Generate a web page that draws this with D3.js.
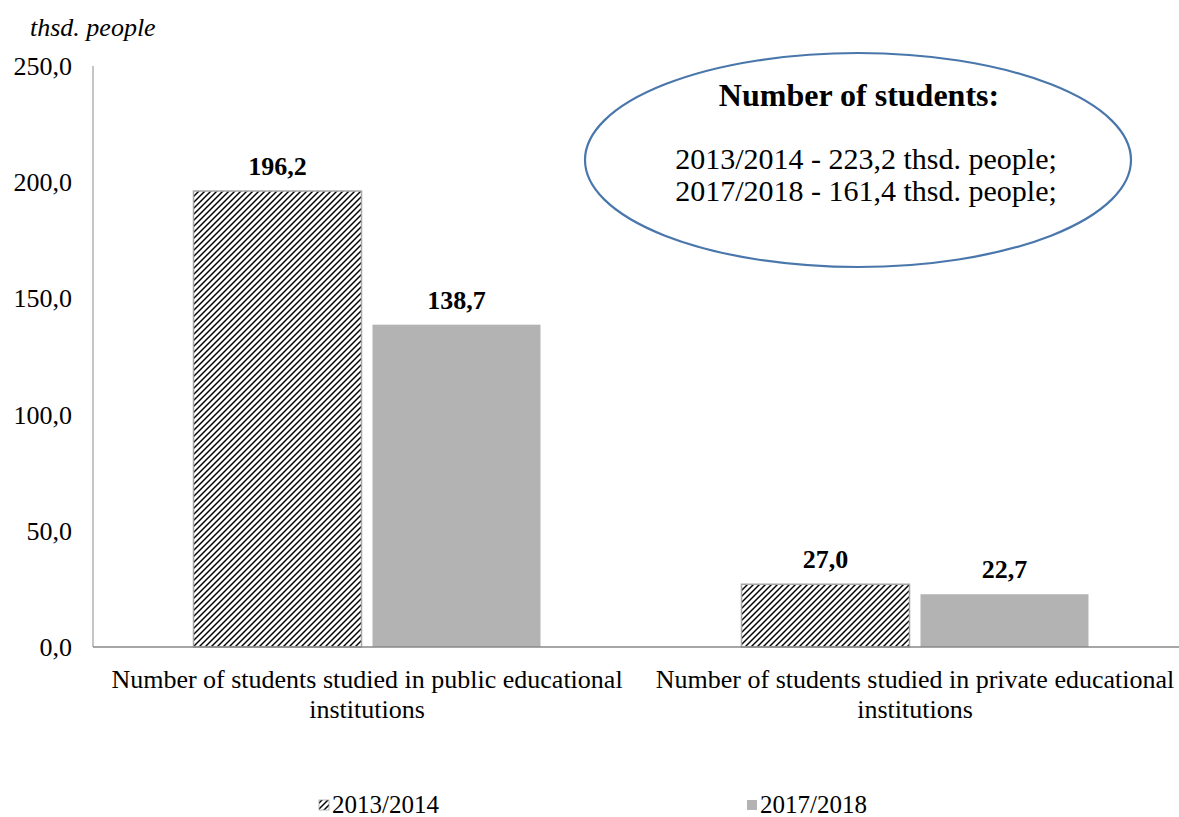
<!DOCTYPE html>
<html>
<head>
<meta charset="utf-8">
<script src="https://cdn.jsdelivr.net/npm/d3@7/dist/d3.min.js"></script>
<style>
  html, body { margin: 0; padding: 0; background: #fff; }
  svg { display: block; font-family: "Liberation Serif", "Times New Roman", serif; }
</style>
</head>
<body>
<svg id="chart" width="1179" height="817"></svg>
<script>
// Student numbers by type of institution, thousand people
const categories = [
  ["Number of students studied in public educational", "institutions"],
  ["Number of students studied in private educational", "institutions"]
];
const seriesNames = ["2013/2014", "2017/2018"];
const values2013 = [196.2, 27.0];
const values2017 = [138.7, 22.7];
const yTicks = [0, 50, 100, 150, 200, 250];
const unitLabel = "thsd. people";
const calloutTitle = "Number of students:";
const calloutLines = ["2013/2014 - 223,2 thsd. people;", "2017/2018 - 161,4 thsd. people;"];

const fmt = v => d3.format(".1f")(v).replace(".", ",");

const svg = d3.select("#chart");
const W = 1179, H = 817;
const plot = { left: 93, right: 1189, top: 66, bottom: 647 };

// hatch fill for the first series
const defs = svg.append("defs");
const pat = defs.append("pattern")
  .attr("id", "hatch")
  .attr("patternUnits", "userSpaceOnUse")
  .attr("width", 6).attr("height", 6);
pat.append("rect").attr("width", 6).attr("height", 6).attr("fill", "#fff");
pat.append("path")
  .attr("d", "M-1,1 l2,-2 M0,6 l6,-6 M5,7 l2,-2")
  .attr("stroke", "#000").attr("stroke-width", 1.45);

const x0 = d3.scaleBand().domain(d3.range(categories.length))
  .range([plot.left, plot.right]);
const y = d3.scaleLinear().domain([0, 250]).range([plot.bottom, plot.top]);

// y axis line and tick labels
svg.append("line")
  .attr("x1", plot.left).attr("x2", plot.left)
  .attr("y1", y(250)).attr("y2", y(0))
  .attr("stroke", "#898989").attr("stroke-width", 1);

svg.append("g").selectAll("text").data(yTicks).join("text")
  .attr("x", 72).attr("y", d => y(d) + 9)
  .attr("text-anchor", "end")
  .attr("font-size", 26)
  .text(d => fmt(d));

svg.append("text")
  .attr("x", 30).attr("y", 36)
  .attr("font-size", 26).attr("font-style", "italic")
  .text(unitLabel);

// bars
const barW = 168, gap = 11;
const series = [
  { name: seriesNames[0], values: values2013, fill: "url(#hatch)", stroke: "#a6a6a6" },
  { name: seriesNames[1], values: values2017, fill: "#b3b3b3", stroke: "none" }
];

series.forEach((s, si) => {
  const g = svg.append("g");
  const bx = i => x0(i) + x0.bandwidth() / 2 + (si === 0 ? -(barW + gap / 2) : gap / 2);
  g.selectAll("rect").data(s.values).join("rect")
    .attr("x", (d, i) => bx(i))
    .attr("y", d => y(d))
    .attr("width", barW)
    .attr("height", d => y(0) - y(d))
    .attr("fill", s.fill)
    .attr("stroke", s.stroke)
    .attr("stroke-width", 1.5);
  g.selectAll("text").data(s.values).join("text")
    .attr("x", (d, i) => bx(i) + barW / 2)
    .attr("y", d => y(d) - 16)
    .attr("text-anchor", "middle")
    .attr("font-size", 26).attr("font-weight", "bold")
    .text(d => fmt(d));
});

// baseline
svg.append("line")
  .attr("x1", plot.left).attr("x2", W)
  .attr("y1", y(0)).attr("y2", y(0))
  .attr("stroke", "#898989").attr("stroke-width", 1.5);

// category labels
categories.forEach((lines, i) => {
  const t = svg.append("text")
    .attr("x", x0(i) + x0.bandwidth() / 2)
    .attr("y", 688)
    .attr("text-anchor", "middle")
    .attr("font-size", 26);
  lines.forEach((ln, k) => {
    t.append("tspan")
      .attr("x", x0(i) + x0.bandwidth() / 2)
      .attr("dy", k === 0 ? 0 : 30)
      .text(ln);
  });
});

// legend
const legend = [
  { name: seriesNames[0], fill: "url(#hatch)", x: 319 },
  { name: seriesNames[1], fill: "#b3b3b3", x: 747 }
];
legend.forEach(l => {
  svg.append("rect")
    .attr("x", l.x).attr("y", 800)
    .attr("width", 10).attr("height", 10)
    .attr("fill", l.fill)
    .attr("stroke", l.fill === "#b3b3b3" ? "none" : "#a6a6a6")
    .attr("stroke-width", 0.8);
  svg.append("text")
    .attr("x", l.x + 13).attr("y", 813)
    .attr("font-size", 25)
    .text(l.name);
});

// callout ellipse with totals
svg.append("ellipse")
  .attr("cx", 858).attr("cy", 160)
  .attr("rx", 273).attr("ry", 107)
  .attr("fill", "#fff")
  .attr("stroke", "#4a77ab").attr("stroke-width", 2.2);

svg.append("text")
  .attr("x", 859).attr("y", 106)
  .attr("text-anchor", "middle")
  .attr("font-size", 32).attr("font-weight", "bold")
  .text(calloutTitle);

calloutLines.forEach((ln, k) => {
  svg.append("text")
    .attr("x", 866).attr("y", 169 + k * 32)
    .attr("text-anchor", "middle")
    .attr("font-size", 30)
    .text(ln);
});
</script>
</body>
</html>
